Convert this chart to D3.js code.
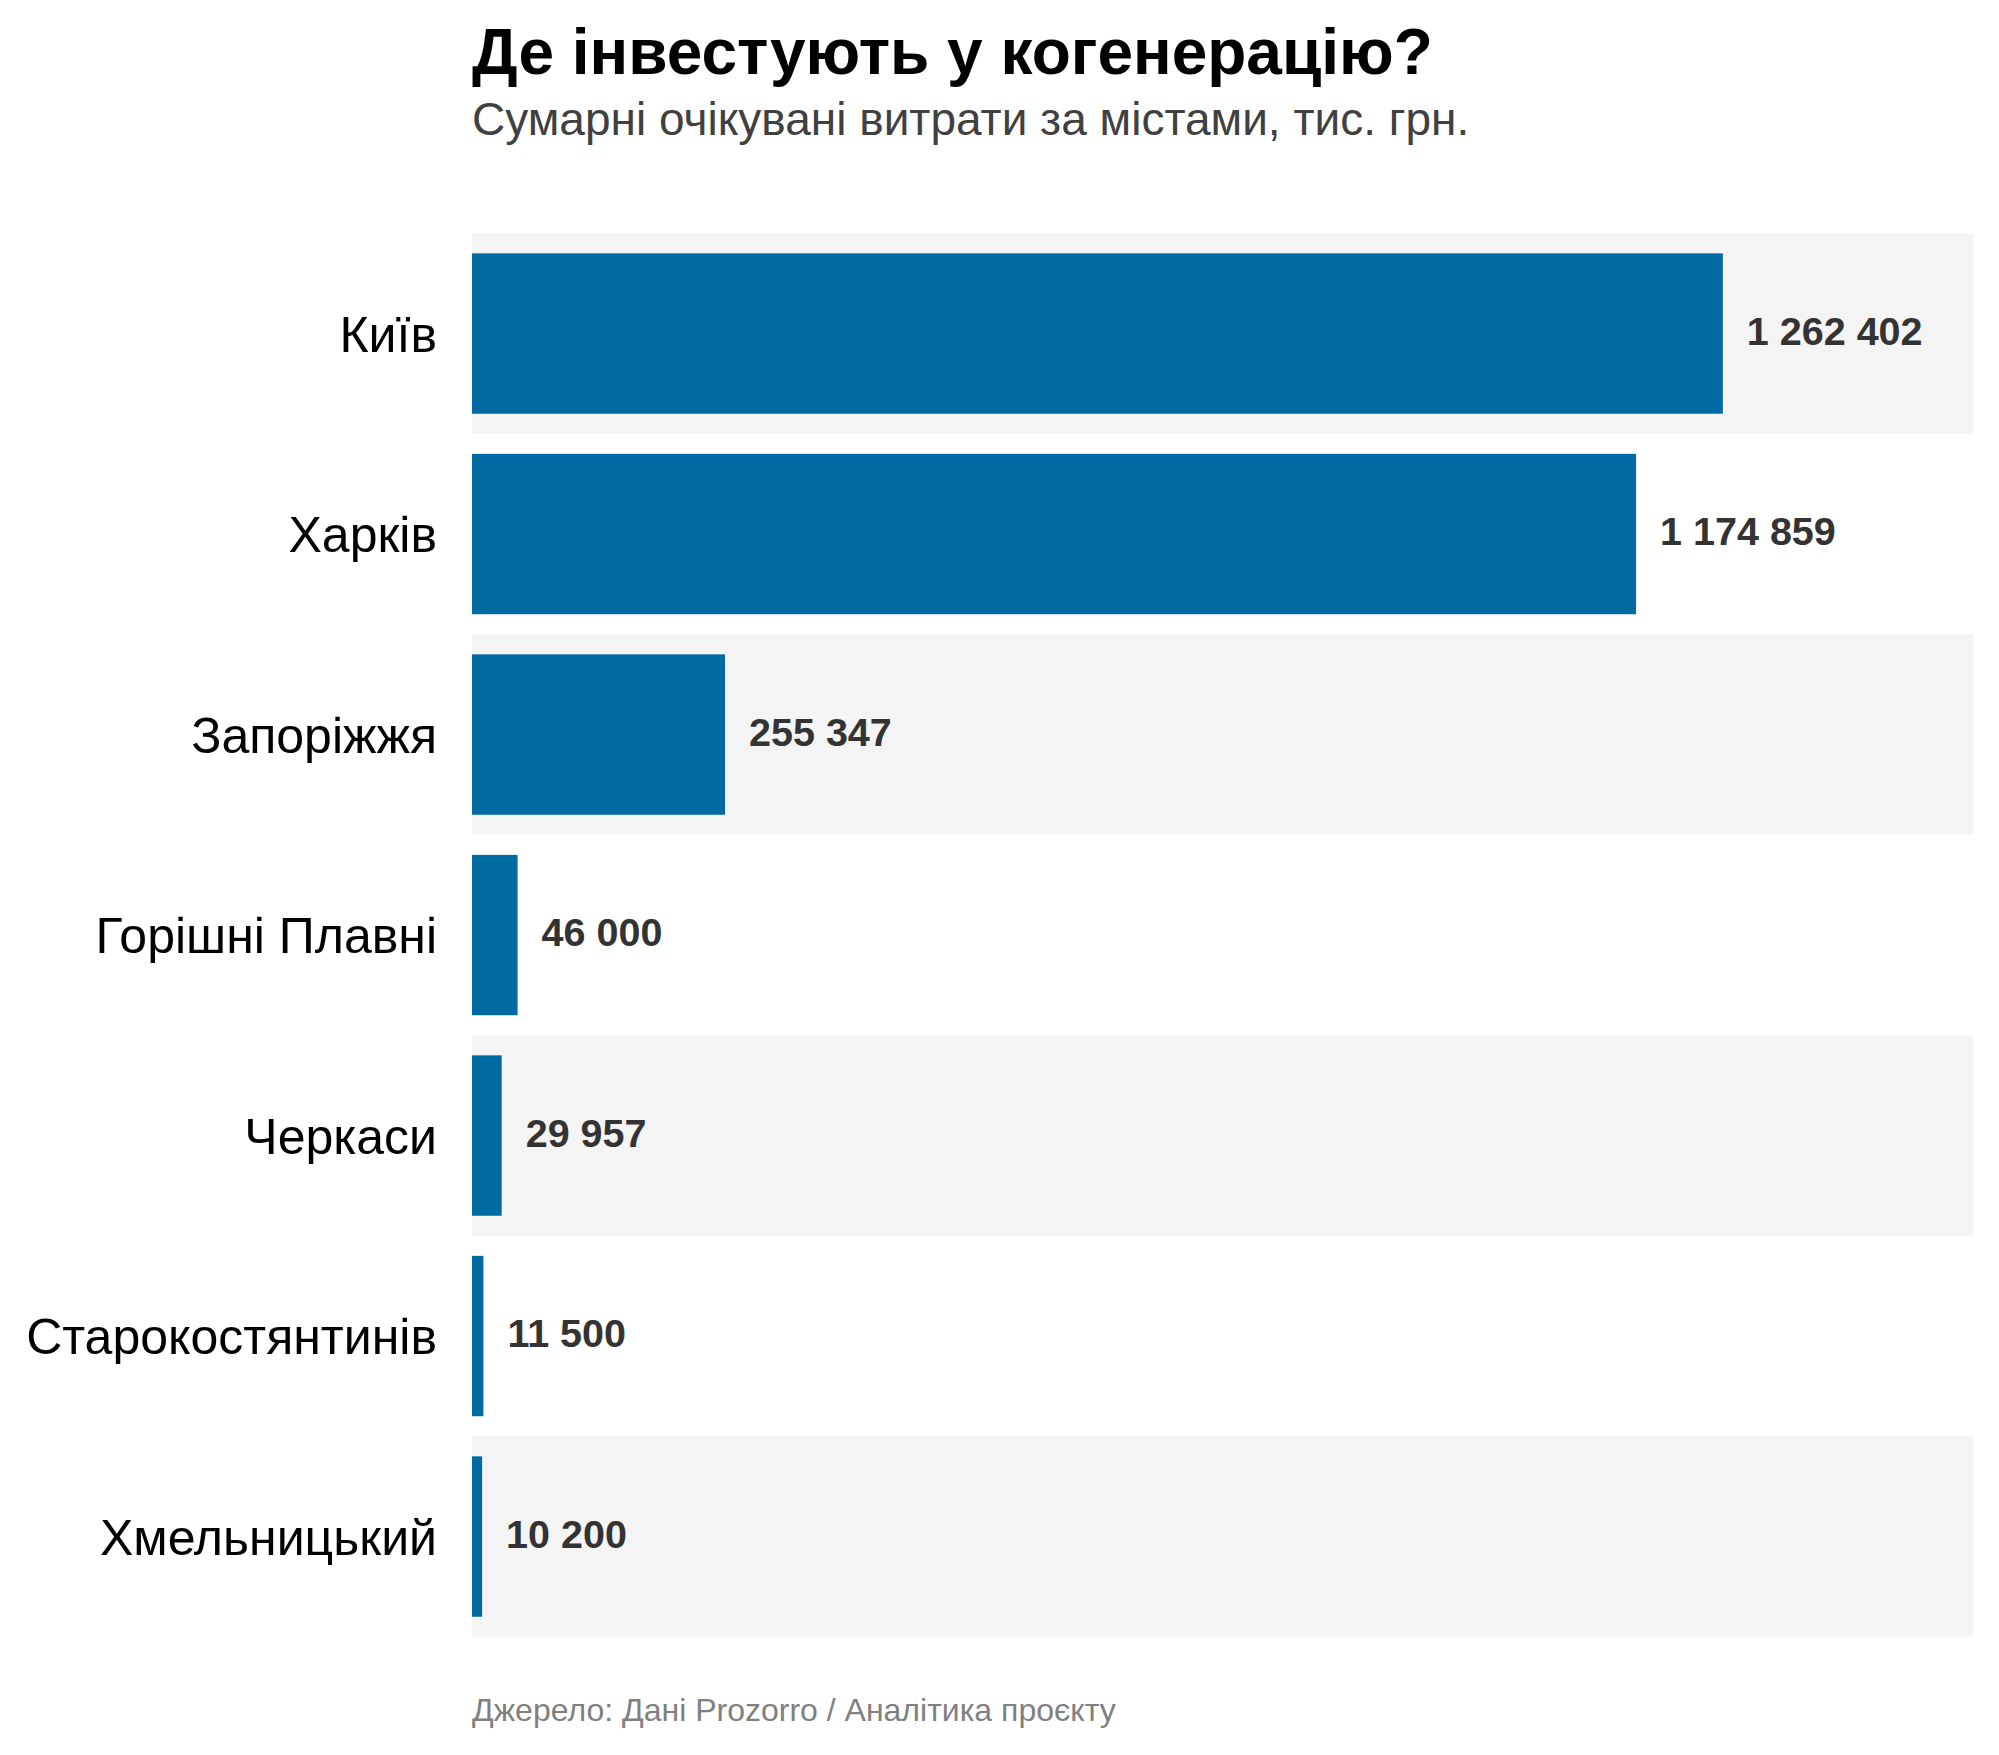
<!DOCTYPE html>
<html>
<head>
<meta charset="utf-8">
<script src="https://cdn.jsdelivr.net/npm/d3@7"></script>
<style>
  body { margin: 0; background: #fff; }
  svg text { font-family: "Liberation Sans", Arial, sans-serif; }
</style>
</head>
<body>
<svg id="chart"></svg>
<script>
var WIDTH = 1999;
var HEIGHT = 1755;

// data
var cities = ["Київ", "Харків", "Запоріжжя", "Горішні Плавні", "Черкаси", "Старокостянтинів", "Хмельницький"];
var spend = [1262402, 1174859, 255347, 46000, 29957, 11500, 10200];

var TITLE = "Де інвестують у когенерацію?";
var SUBTITLE = "Сумарні очікувані витрати за містами, тис. грн.";
var SOURCE = "Джерело: Дані Prozorro / Аналітика проєкту";

var rows = cities.map(function(c, i) { return { city: c, value: spend[i] }; });

var svg = d3.select("#chart").attr("width", WIDTH).attr("height", HEIGHT);

var X0 = 472, X1 = 1973;
var Y0 = 233.3, Y1 = 1636.8;

var x = d3.scaleLinear()
    .domain([0, d3.max(spend) * 1.2])
    .range([X0, X1]);

var y = d3.scaleBand()
    .domain(cities)
    .range([Y0, Y1])
    .padding(0);

var inset = y.bandwidth() * 0.1;

var fmt = d3.formatLocale({ decimal: ",", thousands: " ", grouping: [3], currency: ["", ""] }).format(",d");

// striped background
svg.append("g").selectAll("rect")
    .data(rows.filter(function(d, i) { return i % 2 === 0; }))
    .enter()
    .append("rect")
    .attr("x", X0)
    .attr("y", function(d) { return y(d.city); })
    .attr("width", X1 - X0)
    .attr("height", y.bandwidth())
    .style("fill", "#f4f4f4");

// bars
svg.append("g").selectAll("rect")
    .data(rows)
    .enter()
    .append("rect")
    .attr("x", x(0))
    .attr("y", function(d) { return y(d.city) + inset; })
    .attr("width", function(d) { return x(d.value) - x(0); })
    .attr("height", y.bandwidth() - 2 * inset)
    .style("fill", "#006ba2");

// value labels
svg.append("g").selectAll("text")
    .data(rows)
    .enter()
    .append("text")
    .attr("x", function(d) { return x(d.value) + 24; })
    .attr("y", function(d) { return y(d.city) + y.bandwidth() / 2 + 11; })
    .style("font-size", "39.5px")
    .style("font-weight", "bold")
    .style("fill", "#333333")
    .text(function(d) { return fmt(d.value); });

// city axis
var yAxis = svg.append("g")
    .attr("transform", "translate(" + X0 + ",0)")
    .call(d3.axisLeft(y).tickSize(0).tickPadding(35));
yAxis.select(".domain").remove();
yAxis.selectAll("text")
    .attr("dy", null)
    .attr("y", 18)
    .style("font-size", "50px")
    .style("fill", "#000")
    .style("font-family", "'Liberation Sans', Arial, sans-serif");

// titles
svg.append("text")
    .attr("x", X0).attr("y", 74)
    .style("font-size", "64px")
    .style("font-weight", "bold")
    .style("fill", "#000")
    .text(TITLE);

svg.append("text")
    .attr("x", X0).attr("y", 135)
    .style("font-size", "46px")
    .style("fill", "#404040")
    .text(SUBTITLE);

svg.append("text")
    .attr("x", X0).attr("y", 1721)
    .style("font-size", "32px")
    .style("fill", "#808080")
    .text(SOURCE);
</script>
</body>
</html>
